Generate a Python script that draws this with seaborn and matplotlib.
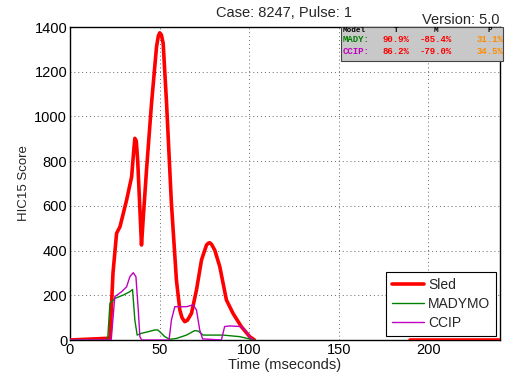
import numpy as np
import pandas as pd
import matplotlib
matplotlib.use("Agg")
import matplotlib.pyplot as plt
from matplotlib.lines import Line2D
import seaborn as sns

# ---- data ----
sled_t = [0, 22.3, 24.0, 26.0, 27.9, 31.6, 34.4, 35.5, 36.2, 37.0, 37.8, 39.9, 41.0, 42.7,
          45.5, 48.3, 49.3, 50.1, 51.0, 52.0, 53.9, 56.6, 59.4, 61.3, 62.5, 64.0, 65.5,
          67.8, 70.6, 73.4, 76.2, 77.2, 78.0, 79.0, 80.8, 83.6, 87.3, 91.0, 95.6, 100.3, 103.0]
sled_v = [0, 8, 300, 477, 507, 626, 730, 840, 902, 890, 800, 425, 560, 760,
          1058, 1312, 1360, 1374, 1365, 1327, 1058, 611, 268, 134, 100, 82, 88,
          119, 224, 358, 425, 433, 435, 428, 402, 328, 179, 119, 60, 15, 0]
sled_tail_t = [190, 240]
sled_tail_v = [0, 0]

mady_t = [0, 21.0, 22.3, 25.0, 29.7, 33.4, 34.9, 36.2, 37.5, 39.9, 43.6, 47.4, 49.0, 50.1,
          52.9, 55.7, 59.4, 65.0, 69.6, 71.5, 74.3, 85.4, 94.7, 101.2, 103.0]
mady_v = [0, 0, 164, 186, 201, 216, 226, 89, 22, 30, 37, 45, 45, 37,
          15, 3, 7, 22, 42, 40, 22, 22, 15, 3, 0]

ccip_t = [0, 23.0, 25.0, 28.8, 31.6, 33.4, 35.3, 36.8, 38.1, 39.0, 40.0, 55.3, 56.6, 58.5,
          65.0, 68.7, 70.6, 72.4, 74.0, 84.5, 86.3, 89.1, 95.6, 98.4, 100.3, 102.0]
ccip_v = [0, 0, 194, 216, 238, 283, 301, 283, 134, 15, 0, 0, 89, 149,
          149, 157, 134, 45, 5, 0, 60, 63, 60, 37, 15, 0]

series_names = ["Sled", "MADYMO", "CCIP"]
series_colors = ["#ff0000", "#008000", "#c000c0"]
series_widths = [2.6, 1.0, 1.0]

table_header = ["Model", "T", "M", "P"]
table_rows = [["MADY:", "90.9%", "-85.4%", "31.1%"],
              ["CCIP:", "86.2%", "-79.0%", "34.5%"]]

title = "Case: 8247, Pulse: 1"
version = "Version: 5.0"

# ---- build frame ----
frames = [
    pd.DataFrame({"t": sled_t, "v": sled_v, "Model": "Sled", "seg": 0}),
    pd.DataFrame({"t": sled_tail_t, "v": sled_tail_v, "Model": "Sled", "seg": 1}),
    pd.DataFrame({"t": mady_t, "v": mady_v, "Model": "MADYMO", "seg": 0}),
    pd.DataFrame({"t": ccip_t, "v": ccip_v, "Model": "CCIP", "seg": 0}),
]
df = pd.concat(frames, ignore_index=True)

sns.set_style("white")
plt.rcParams["font.family"] = ["Liberation Sans", "DejaVu Sans"]

fig = plt.figure(figsize=(5.05, 3.81), dpi=100)
ax = fig.add_axes([70 / 505, 41 / 381, 430 / 505, 313 / 381])

for name, col, lw in zip(series_names, series_colors, series_widths):
    sub = df[df["Model"] == name]
    sns.lineplot(data=sub, x="t", y="v", units="seg", estimator=None, color=col,
                 linewidth=lw, ax=ax, legend=False, sort=False, zorder=3)

ax.set_xlim(0, 240)
ax.set_ylim(0, 1400)
ax.set_xticks([0, 50, 100, 150, 200])
ax.set_yticks(range(0, 1401, 200))
ax.grid(True, linestyle=(0, (1, 3)), color="#666666", linewidth=0.7)
for s in ax.spines.values():
    s.set_color("black")
    s.set_linewidth(1.0)
ax.tick_params(direction="in", length=3, labelsize=10.5, colors="black", pad=2)
ax.set_xlabel("Time (mseconds)", fontsize=10.5, labelpad=1)
ax.set_ylabel("HIC15 Score", fontsize=9.5, labelpad=3)

# legend: one entry per series
handles = [Line2D([], [], color=c, linewidth=w) for c, w in zip(series_colors, series_widths)]
leg = ax.legend(handles, series_names, loc="lower right", fontsize=10, frameon=True,
                fancybox=False, borderaxespad=0.3, handlelength=2.3, handletextpad=0.3,
                labelspacing=0.38, borderpad=0.4)
leg.get_frame().set_edgecolor("black")
leg.get_frame().set_linewidth(0.8)
leg.get_frame().set_alpha(1)

fig.text(284 / 505, 1 - 13 / 381, title, ha="center", va="center", fontsize=10.5)
fig.text(500 / 505, 1 - 20 / 381, version, ha="right", va="center", fontsize=10.5, zorder=1)

# metrics table box
box = plt.Rectangle((341 / 505, 1 - 61 / 381), 162 / 505, 34 / 381,
                    transform=fig.transFigure, facecolor="#c8c8c8",
                    edgecolor="#444444", linewidth=0.8, zorder=5)
fig.add_artist(box)
col_x = [343, 396, 436, 490]
row_y = [30, 40, 52]
row_colors = [["black"] * 4,
              ["#008000", "#ff0000", "#ff0000", "#ff8c00"],
              ["#c000c0", "#ff0000", "#ff0000", "#ff8c00"]]
rows = [table_header] + table_rows
for r, (vals, cols) in enumerate(zip(rows, row_colors)):
    for c, (val, colr) in enumerate(zip(vals, cols)):
        ha = "left" if c == 0 else "center"
        fig.text(col_x[c] / 505, 1 - row_y[r] / 381, val, ha=ha, va="center",
                 fontsize=6.5 if r else 5.5, color=colr, family="Liberation Mono",
                 fontweight="bold", zorder=6)

fig.savefig("out.png", dpi=100)
